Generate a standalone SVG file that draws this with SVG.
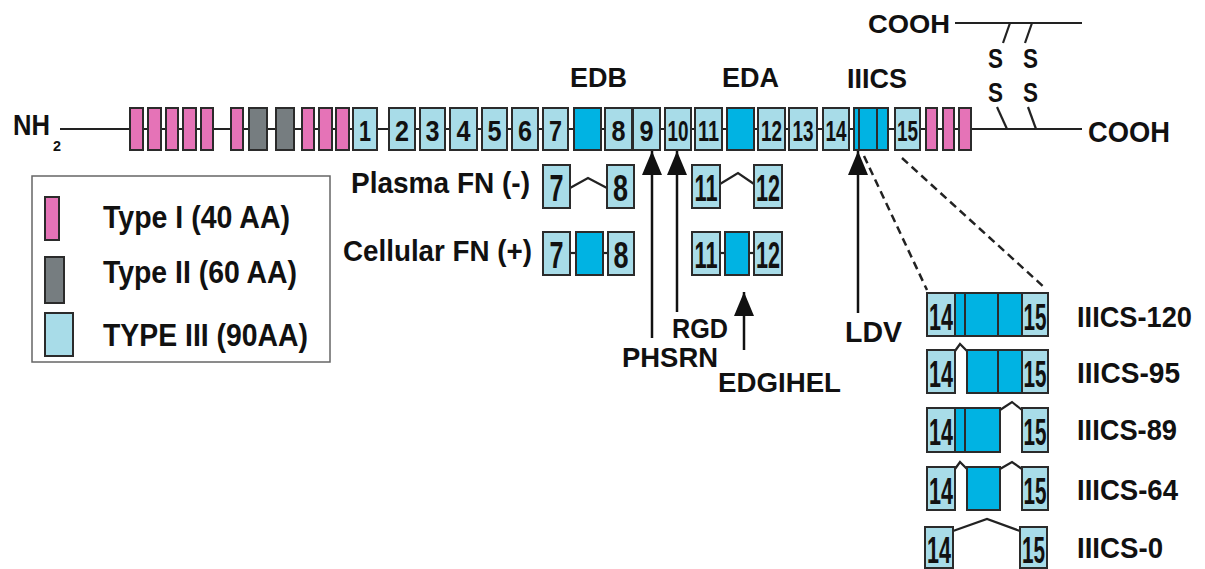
<svg xmlns="http://www.w3.org/2000/svg" width="1205" height="569" viewBox="0 0 1205 569">
<style>
.b{stroke:#2b2b2b;stroke-width:2}
.p{fill:#e573b7}
.g{fill:#767d80}
.l{fill:#a8dce8}
.c{fill:#00b3e3}
.t{font-family:"Liberation Sans",Arial,sans-serif;font-weight:bold;fill:#111}
.n{font-family:"Liberation Sans",Arial,sans-serif;font-weight:bold;fill:#111;text-anchor:middle}
.ln{stroke:#222;stroke-width:2.2;fill:none}
.ar{stroke:#111;stroke-width:2.5;fill:none}
.ds{stroke:#222;stroke-width:2.5;fill:none;stroke-dasharray:8 5}
</style>
<defs>
<marker id="ah" viewBox="0 0 24 20" refX="24" refY="10" markerWidth="24" markerHeight="20" markerUnits="userSpaceOnUse" orient="auto">
<path d="M0,0 L24,10 L0,20 z" fill="#111"/>
</marker>
</defs>
<rect width="1205" height="569" fill="#fff"/>

<g id="connectors">
<line class="ln" x1="60" y1="129" x2="1082" y2="129"/>
<line class="ln" x1="955" y1="23" x2="1082" y2="23"/>
<line class="ln" x1="1010" y1="23" x2="1003" y2="43"/>
<line class="ln" x1="1032" y1="23" x2="1025" y2="43"/>
<line class="ln" x1="997" y1="107" x2="1007" y2="129"/>
<line class="ln" x1="1028" y1="107" x2="1036" y2="129"/>
<line class="ar" x1="652" y1="338" x2="652" y2="151" marker-end="url(#ah)"/>
<line class="ar" x1="677" y1="312" x2="677" y2="151" marker-end="url(#ah)"/>
<line class="ar" x1="858" y1="313" x2="858" y2="151" marker-end="url(#ah)"/>
<line class="ar" x1="744" y1="350" x2="744" y2="292" marker-end="url(#ah)"/>
<line class="ds" x1="864" y1="156" x2="927" y2="290"/>
<line class="ds" x1="902" y1="158" x2="1045" y2="288"/>
<polyline class="ln" points="570,188 588,178 607,188"/>
<polyline class="ln" points="720,184 738,173 754,184"/>
<line class="ln" x1="570" y1="253" x2="576" y2="253"/>
<line class="ln" x1="603" y1="253" x2="608" y2="253"/>
<line class="ln" x1="720" y1="253" x2="725" y2="253"/>
<line class="ln" x1="749" y1="253" x2="754" y2="253"/>
<polyline class="ln" points="955,351 960,344 967,351"/>
<polyline class="ln" points="1000,410 1012,402 1022,410"/>
<polyline class="ln" points="955,469 960,462 967,469"/>
<polyline class="ln" points="1000,469 1012,462 1022,469"/>
<polyline class="ln" points="953,531 987,519 1020,531"/>
</g>

<g id="nh2">
<text class="t" x="13" y="135" font-size="29" textLength="37" lengthAdjust="spacingAndGlyphs">NH</text>
<text class="t" x="53" y="151" font-size="15" textLength="8" lengthAdjust="spacingAndGlyphs">2</text>
</g>

<g id="type1-n">
<rect class="b p" x="130" y="108" width="13" height="42"/>
<rect class="b p" x="148" y="108" width="13" height="42"/>
<rect class="b p" x="166" y="108" width="12" height="42"/>
<rect class="b p" x="183" y="108" width="13" height="42"/>
<rect class="b p" x="201" y="108" width="12" height="42"/>
<rect class="b p" x="231" y="108" width="12" height="42"/>
</g>
<g id="type2">
<rect class="b g" x="249" y="108" width="18" height="42"/>
<rect class="b g" x="276" y="108" width="18" height="42"/>
</g>
<g id="type1-m">
<rect class="b p" x="302" y="108" width="12" height="42"/>
<rect class="b p" x="319" y="108" width="13" height="42"/>
<rect class="b p" x="336" y="108" width="13" height="42"/>
</g>

<g id="type3">
<rect class="b l" x="353" y="108" width="24" height="42"/><text class="n" x="365" y="141" font-size="30" textLength="12" lengthAdjust="spacingAndGlyphs">1</text>
<rect class="b l" x="389" y="108" width="26" height="42"/><text class="n" x="402" y="141" font-size="30" textLength="14" lengthAdjust="spacingAndGlyphs">2</text>
<rect class="b l" x="420" y="108" width="25" height="42"/><text class="n" x="432.5" y="141" font-size="30" textLength="14" lengthAdjust="spacingAndGlyphs">3</text>
<rect class="b l" x="450" y="108" width="27" height="42"/><text class="n" x="463.5" y="141" font-size="30" textLength="14" lengthAdjust="spacingAndGlyphs">4</text>
<rect class="b l" x="482" y="108" width="25" height="42"/><text class="n" x="494.5" y="141" font-size="30" textLength="14" lengthAdjust="spacingAndGlyphs">5</text>
<rect class="b l" x="512" y="108" width="26" height="42"/><text class="n" x="525" y="141" font-size="30" textLength="14" lengthAdjust="spacingAndGlyphs">6</text>
<rect class="b l" x="543" y="108" width="25" height="42"/><text class="n" x="555.5" y="141" font-size="30" textLength="13" lengthAdjust="spacingAndGlyphs">7</text>
<rect class="b c" x="574" y="108" width="27" height="42"/>
<rect class="b l" x="605" y="108" width="27" height="42"/><text class="n" x="618.5" y="141" font-size="30" textLength="14" lengthAdjust="spacingAndGlyphs">8</text>
<rect class="b l" x="633" y="108" width="27" height="42"/><text class="n" x="646.5" y="141" font-size="30" textLength="14" lengthAdjust="spacingAndGlyphs">9</text>
<rect class="b l" x="665" y="108" width="26" height="42"/><text class="n" x="678" y="141" font-size="30" textLength="21" lengthAdjust="spacingAndGlyphs">10</text>
<rect class="b l" x="695" y="108" width="27" height="42"/><text class="n" x="708.5" y="141" font-size="30" textLength="21" lengthAdjust="spacingAndGlyphs">11</text>
<rect class="b c" x="727" y="108" width="27" height="42"/>
<rect class="b l" x="758" y="108" width="27" height="42"/><text class="n" x="771.5" y="141" font-size="30" textLength="21" lengthAdjust="spacingAndGlyphs">12</text>
<rect class="b l" x="789" y="108" width="28" height="42"/><text class="n" x="803" y="141" font-size="30" textLength="21" lengthAdjust="spacingAndGlyphs">13</text>
<rect class="b l" x="823" y="108" width="26" height="42"/><text class="n" x="836" y="141" font-size="30" textLength="21" lengthAdjust="spacingAndGlyphs">14</text>
<rect class="b c" x="854" y="108" width="34" height="42"/>
<line class="b" x1="859" y1="108" x2="859" y2="150"/>
<line class="b" x1="877" y1="108" x2="877" y2="150"/>
<rect class="b l" x="895" y="108" width="25" height="42"/><text class="n" x="907.5" y="141" font-size="30" textLength="21" lengthAdjust="spacingAndGlyphs">15</text>
</g>
<g id="type1-c">
<rect class="b p" x="926" y="108" width="11" height="42"/>
<rect class="b p" x="943" y="108" width="11" height="42"/>
<rect class="b p" x="959" y="108" width="12" height="42"/>
</g>

<g id="cooh">
<text class="t" x="1088" y="142" font-size="29" textLength="82" lengthAdjust="spacingAndGlyphs">COOH</text>
<text class="t" x="868" y="33" font-size="25" textLength="82" lengthAdjust="spacingAndGlyphs">COOH</text>
<text class="t" x="988" y="68" font-size="27" textLength="15" lengthAdjust="spacingAndGlyphs">S</text>
<text class="t" x="988" y="102" font-size="27" textLength="15" lengthAdjust="spacingAndGlyphs">S</text>
<text class="t" x="1023" y="68" font-size="27" textLength="15" lengthAdjust="spacingAndGlyphs">S</text>
<text class="t" x="1023" y="102" font-size="27" textLength="15" lengthAdjust="spacingAndGlyphs">S</text>
</g>

<g id="domain-labels">
<text class="t" x="570" y="87" font-size="27" textLength="57" lengthAdjust="spacingAndGlyphs">EDB</text>
<text class="t" x="722" y="87" font-size="27" textLength="57" lengthAdjust="spacingAndGlyphs">EDA</text>
<text class="t" x="847" y="88" font-size="28" textLength="60" lengthAdjust="spacingAndGlyphs">IIICS</text>
</g>

<g id="plasma-fn">
<text class="t" x="351" y="193" font-size="29" textLength="179" lengthAdjust="spacingAndGlyphs">Plasma FN (-)</text>
<rect class="b l" x="543" y="165" width="27" height="43"/><text class="n" x="556.5" y="201" font-size="36" textLength="14" lengthAdjust="spacingAndGlyphs">7</text>
<rect class="b l" x="607" y="165" width="27" height="43"/><text class="n" x="620.5" y="201" font-size="36" textLength="15" lengthAdjust="spacingAndGlyphs">8</text>
<rect class="b l" x="692" y="165" width="28" height="43"/><text class="n" x="706" y="201" font-size="36" textLength="23" lengthAdjust="spacingAndGlyphs">11</text>
<rect class="b l" x="754" y="165" width="28" height="43"/><text class="n" x="768" y="201" font-size="36" textLength="24" lengthAdjust="spacingAndGlyphs">12</text>
</g>

<g id="cellular-fn">
<text class="t" x="343" y="261" font-size="29" textLength="189" lengthAdjust="spacingAndGlyphs">Cellular FN (+)</text>
<rect class="b l" x="543" y="232" width="27" height="43"/><text class="n" x="556.5" y="268" font-size="36" textLength="14" lengthAdjust="spacingAndGlyphs">7</text>
<rect class="b c" x="576" y="232" width="27" height="43"/>
<rect class="b l" x="608" y="232" width="26" height="43"/><text class="n" x="621" y="268" font-size="36" textLength="15" lengthAdjust="spacingAndGlyphs">8</text>
<rect class="b l" x="692" y="232" width="28" height="43"/><text class="n" x="706" y="268" font-size="36" textLength="23" lengthAdjust="spacingAndGlyphs">11</text>
<rect class="b c" x="725" y="232" width="24" height="43"/>
<rect class="b l" x="754" y="232" width="28" height="43"/><text class="n" x="768" y="268" font-size="36" textLength="24" lengthAdjust="spacingAndGlyphs">12</text>
</g>

<g id="site-labels">
<text class="t" x="672" y="338" font-size="28" textLength="56" lengthAdjust="spacingAndGlyphs">RGD</text>
<text class="t" x="622" y="367" font-size="28" textLength="96" lengthAdjust="spacingAndGlyphs">PHSRN</text>
<text class="t" x="718" y="392" font-size="28" textLength="123" lengthAdjust="spacingAndGlyphs">EDGIHEL</text>
<text class="t" x="845" y="342" font-size="29" textLength="57" lengthAdjust="spacingAndGlyphs">LDV</text>
</g>

<g id="iiics-120">
<rect class="b l" x="927" y="293" width="28" height="43"/><text class="n" x="941" y="330" font-size="36" textLength="24" lengthAdjust="spacingAndGlyphs">14</text>
<rect class="b c" x="955" y="293" width="67" height="43"/>
<line class="b" x1="965" y1="293" x2="965" y2="336"/>
<line class="b" x1="998" y1="293" x2="998" y2="336"/>
<rect class="b l" x="1022" y="293" width="26" height="43"/><text class="n" x="1035" y="330" font-size="36" textLength="23" lengthAdjust="spacingAndGlyphs">15</text>
<text class="t" x="1077" y="327" font-size="30" textLength="115" lengthAdjust="spacingAndGlyphs">IIICS-120</text>
</g>
<g id="iiics-95">
<rect class="b l" x="927" y="350" width="28" height="43"/><text class="n" x="941" y="387" font-size="36" textLength="24" lengthAdjust="spacingAndGlyphs">14</text>
<rect class="b c" x="967" y="350" width="55" height="43"/>
<line class="b" x1="998" y1="350" x2="998" y2="393"/>
<rect class="b l" x="1022" y="350" width="26" height="43"/><text class="n" x="1035" y="387" font-size="36" textLength="23" lengthAdjust="spacingAndGlyphs">15</text>
<text class="t" x="1077" y="383" font-size="30" textLength="103" lengthAdjust="spacingAndGlyphs">IIICS-95</text>
</g>
<g id="iiics-89">
<rect class="b l" x="927" y="408" width="28" height="44"/><text class="n" x="941" y="445" font-size="36" textLength="24" lengthAdjust="spacingAndGlyphs">14</text>
<rect class="b c" x="955" y="408" width="45" height="44"/>
<line class="b" x1="965" y1="408" x2="965" y2="452"/>
<rect class="b l" x="1022" y="408" width="26" height="44"/><text class="n" x="1035" y="445" font-size="36" textLength="23" lengthAdjust="spacingAndGlyphs">15</text>
<text class="t" x="1077" y="440" font-size="30" textLength="100" lengthAdjust="spacingAndGlyphs">IIICS-89</text>
</g>
<g id="iiics-64">
<rect class="b l" x="927" y="467" width="28" height="43"/><text class="n" x="941" y="504" font-size="36" textLength="24" lengthAdjust="spacingAndGlyphs">14</text>
<rect class="b c" x="967" y="467" width="33" height="43"/>
<rect class="b l" x="1022" y="467" width="26" height="43"/><text class="n" x="1035" y="504" font-size="36" textLength="23" lengthAdjust="spacingAndGlyphs">15</text>
<text class="t" x="1077" y="500" font-size="30" textLength="101" lengthAdjust="spacingAndGlyphs">IIICS-64</text>
</g>
<g id="iiics-0">
<rect class="b l" x="925" y="527" width="28" height="41"/><text class="n" x="939" y="563" font-size="36" textLength="24" lengthAdjust="spacingAndGlyphs">14</text>
<rect class="b l" x="1020" y="527" width="27" height="41"/><text class="n" x="1033.5" y="563" font-size="36" textLength="23" lengthAdjust="spacingAndGlyphs">15</text>
<text class="t" x="1077" y="558" font-size="30" textLength="86" lengthAdjust="spacingAndGlyphs">IIICS-0</text>
</g>

<g id="legend">
<rect x="32" y="176" width="298" height="186" fill="#fff" stroke="#666" stroke-width="1.5"/>
<rect class="b p" x="45" y="197" width="14" height="43"/>
<text class="t" x="103" y="228" font-size="31" textLength="187" lengthAdjust="spacingAndGlyphs">Type I (40 AA)</text>
<rect class="b g" x="45" y="257" width="19" height="46"/>
<text class="t" x="103" y="283" font-size="31" textLength="194" lengthAdjust="spacingAndGlyphs">Type II (60 AA)</text>
<rect class="b l" x="45" y="313" width="28" height="43"/>
<text class="t" x="103" y="346" font-size="31" textLength="205" lengthAdjust="spacingAndGlyphs">TYPE III (90AA)</text>
</g>
</svg>
